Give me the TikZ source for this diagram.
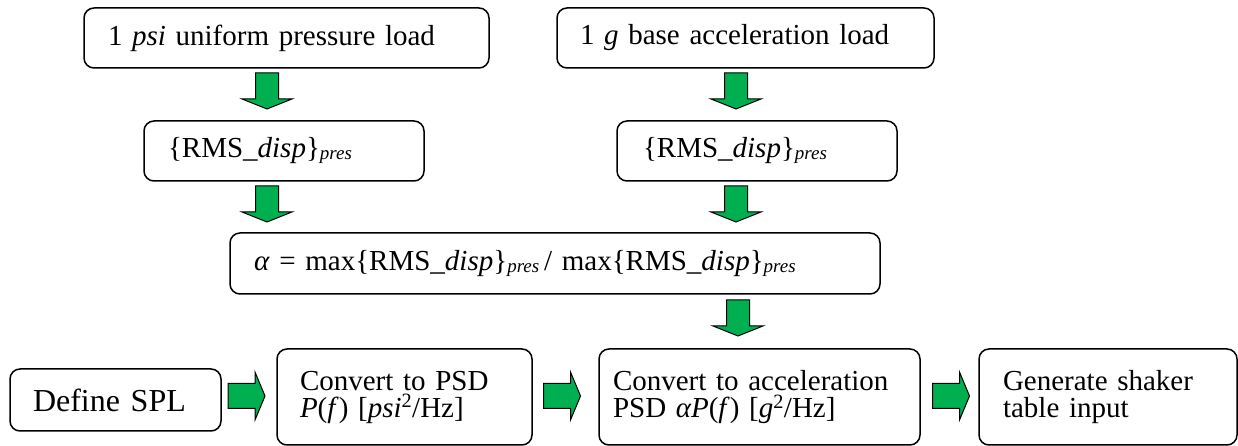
\documentclass[tikz,border=0pt]{standalone}
\usepackage{fontspec}
\setmainfont{Liberation Serif}
\definecolor{pgreen}{HTML}{00B050}
\newcommand{\subpres}{\raisebox{-2pt}{\fontsize{19}{19}\selectfont\itshape pres}}
\begin{document}
\begin{tikzpicture}[x=1pt,y=1pt,
  box/.style={draw, line width=1.5pt, rounded corners=10pt, inner ysep=0pt,
    align=left, font=\fontsize{29}{27}\selectfont},
  blockarrow/.style={draw=black, line width=1pt, fill=pgreen, line join=miter},
  darr/.pic={\path[blockarrow] (-11.5,18) -- (11.5,18) -- (11.5,-8) -- (25,-8)
      -- (0,-18) -- (-25,-8) -- (-11.5,-8) -- cycle;},
  rarr/.pic={\path[blockarrow] (-18.5,12.5) -- (8.5,12.5) -- (8.5,24) -- (18.5,0)
      -- (8.5,-24) -- (8.5,-12.5) -- (-18.5,-12.5) -- cycle;}]
\useasboundingbox (0,0) rectangle (1238,446);

\node[box, minimum height=60pt, inner xsep=24pt, text width=357pt] (b1) at (286.5,408) {1 \textit{psi} uniform pressure load};
\node[box, minimum height=60pt, inner xsep=23pt, text width=331pt] (b2) at (745.5,408) {1 \textit{g} base acceleration load};
\node[box, minimum height=60pt, inner xsep=24pt, text width=232pt] (b3) at (284,295) {\{RMS\_\textit{disp}\}\subpres};
\node[box, minimum height=60pt, inner xsep=26pt, text width=228pt] (b4) at (757,295) {\{RMS\_\textit{disp}\}\subpres};
\node[box, minimum height=61pt, inner xsep=24pt, text width=602pt] (al) at (555,182.5) {\textit{α} = max\{RMS\_\textit{disp}\}\subpres\,/ max\{RMS\_\textit{disp}\}\subpres};
\node[box, minimum height=62pt, inner xsep=23pt, text width=165pt, font=\fontsize{32}{30}\selectfont] (def) at (115.5,46) {Define SPL};
\node[box, minimum height=96pt, inner xsep=23pt, text width=209pt] (psd) at (404.5,49) {Convert to PSD\\\textit{P}(\textit{f}) [\textit{psi}\textsuperscript{2}/Hz]};
\node[box, minimum height=96pt, inner xsep=14pt, text width=293pt] (acc) at (759.5,49) {Convert to acceleration\\PSD \textit{αP}(\textit{f}) [\textit{g}\textsuperscript{2}/Hz]};
\node[box, minimum height=96pt, inner xsep=24pt, text width=210pt] (shk) at (1108,49) {Generate shaker\\table input};

\pic (a1) at (267,355) {darr};
\pic (a2) at (267,242) {darr};
\pic (a3) at (736,355) {darr};
\pic (a4) at (736,242) {darr};
\pic (a5) at (738,128) {darr};
\pic (h1) at (246.5,50) {rarr};
\pic (h2) at (562,50) {rarr};
\pic (h3) at (951,50) {rarr};
\end{tikzpicture}
\end{document}
